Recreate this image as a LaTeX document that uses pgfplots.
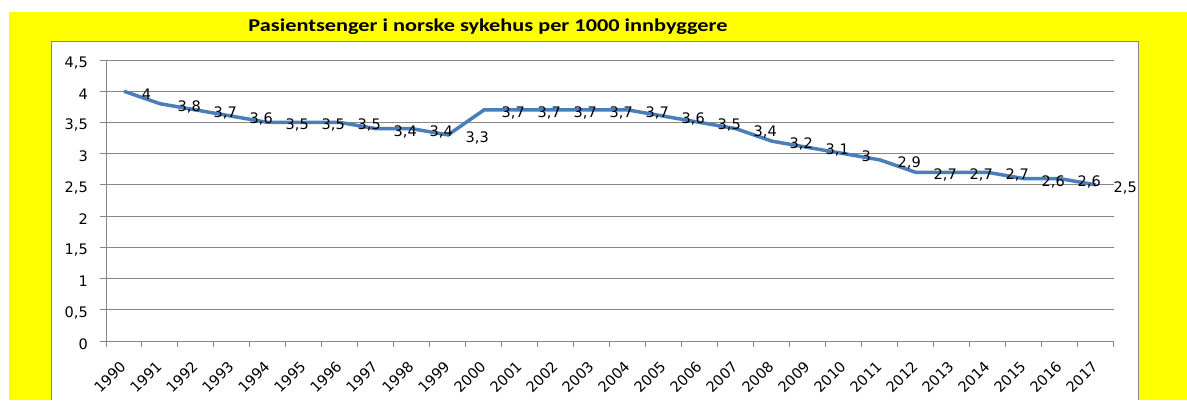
\documentclass[border=0pt]{standalone}
\usepackage{fontspec}
\setmainfont{DejaVu Sans}
\newfontfamily\titlefont{Carlito}
\usepackage{graphicx}
\usepackage{pgfplots}
\pgfplotsset{compat=1.18}
\definecolor{bgyellow}{HTML}{FFFF00}
\definecolor{lineblue}{HTML}{4A7EBB}
\definecolor{gridgray}{HTML}{868686}
\begin{document}
\begin{tikzpicture}[x=1pt,y=1pt]
\fill[white] (0,0) rectangle (1187,400);
\fill[bgyellow] (9,0) rectangle (1187,388);
\fill[white] (51,0) rectangle (1138,358);
\draw[gridgray, line width=1pt] (51,0) -- (51,358) -- (1138,358) -- (1138,0);
\node[inner sep=0pt] at (488,373) {\resizebox{479pt}{\height}{\titlefont\bfseries\fontsize{18}{21}\selectfont Pasientsenger i norske sykehus per 1000 innbyggere}};
\begin{axis}[
  at={(106pt,59pt)}, anchor=south west,
  scale only axis, width=1008pt, height=281pt,
  xmin=-0.5, xmax=27.5, ymin=0, ymax=4.5,
  axis lines*=left,
  axis line style={gridgray, line width=1pt},
  ytick={0,0.5,...,4.5},
  xtick={0,...,27},
  xticklabels={1990,1991,1992,1993,1994,1995,1996,1997,1998,1999,2000,2001,2002,2003,2004,2005,2006,2007,2008,2009,2010,2011,2012,2013,2014,2015,2016,2017},
  minor xtick={-0.5,0.5,...,27.5},
  tick align=outside,
  major tick length=6pt,
  minor tick length=6pt,
  major x tick style={draw=none},
  tick style={gridgray, line width=1pt},
  ymajorgrids,
  grid style={gridgray, line width=1pt},
  every tick label/.append style={font=\fontsize{14.5}{16}\selectfont},
  xticklabel style={xshift=-1pt, yshift=-17pt, rotate=45, anchor=east, inner sep=0pt},
  yticklabel style={inner sep=0pt, xshift=-12pt, yshift=-3pt, anchor=east},
  /pgf/number format/.cd, use comma, 1000 sep={}, assume math mode=true,
]
\addplot[lineblue, line width=3.5pt, mark=none,
  nodes near coords,
  every node near coord/.append style={anchor=west, inner sep=0pt, xshift=16pt, yshift=-3pt, text=black, font=\fontsize{14.5}{16}\selectfont}]
coordinates {
(0,4) (1,3.8) (2,3.7) (3,3.6) (4,3.5) (5,3.5) (6,3.5) (7,3.4) (8,3.4) (9,3.3)
(10,3.7) (11,3.7) (12,3.7) (13,3.7) (14,3.7) (15,3.6) (16,3.5) (17,3.4) (18,3.2) (19,3.1)
(20,3) (21,2.9) (22,2.7) (23,2.7) (24,2.7) (25,2.6) (26,2.6) (27,2.5)
};
\end{axis}
\pgfresetboundingbox
\useasboundingbox (0,0) rectangle (1187,400);
\end{tikzpicture}
\end{document}
